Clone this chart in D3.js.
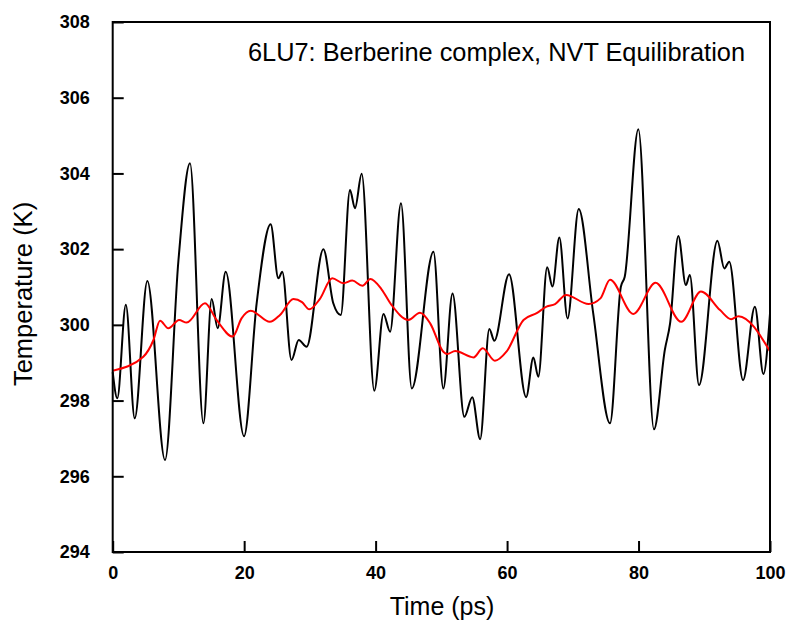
<!DOCTYPE html>
<html>
<head>
<meta charset="utf-8">
<script src="https://cdn.jsdelivr.net/npm/d3@7"></script>
<style>
  body { margin: 0; background: #fff; }
  text { font-family: "Liberation Sans", Arial, sans-serif; }
</style>
</head>
<body>
<svg id="chart" width="789" height="624"></svg>
<script>
// Raw temperature trace (ps, K)
const timeRaw = [0, 0.7, 2.0, 3.35, 5.27, 7.96, 10.0, 11.76, 13.8, 15.06, 15.97, 17.19, 19.98,
  21.9, 24.03, 25.2, 25.8, 27.2, 28.3, 29.5, 32.05, 33.56, 34.7, 36.1, 36.86, 37.88, 39.8,
  41.2, 42.2, 43.86, 45.5, 48.8, 50.3, 51.7, 53.5, 54.7, 55.9, 57.3, 58.06, 60.3, 62.9, 64.0,
  64.75, 66.1, 66.9, 67.95, 69.2, 70.9, 73.1, 75.66, 77.3, 77.9, 79.97, 82.35, 84.0, 84.8,
  86.05, 87.2, 87.8, 89.2, 92.0, 93.05, 93.8, 95.9, 97.7, 99.0, 100];
const tempRaw = [298.75, 298.06, 300.53, 297.53, 301.16, 296.43, 301.7, 304.27, 297.4, 300.68,
  299.91, 301.4, 297.06, 300.57, 302.66, 301.23, 301.4, 299.07, 299.6, 299.42, 302.0, 300.57,
  300.26, 303.56, 303.08, 303.99, 298.26, 300.29, 299.82, 303.21, 298.32, 301.93, 298.32,
  300.83, 297.57, 298.09, 296.98, 299.89, 299.58, 301.34, 298.09, 299.14, 298.63, 301.52,
  301.01, 302.31, 300.17, 303.06, 300.31, 297.4, 301.0, 301.27, 305.17, 297.24, 299.34,
  300.04, 302.35, 301.05, 301.32, 298.41, 302.22, 301.49, 301.67, 298.54, 300.48, 298.7, 300.3];

// Running average (red)
const timeAvg = [0, 4.66, 6.2, 7.2, 8.46, 10.1, 11.25, 14.04, 15.8, 18.26, 19.6, 21.0, 23.9,
  25.45, 27.5, 28.8, 29.9, 31.5, 33.4, 35.1, 36.45, 38.0, 39.2, 40.9, 42.4, 45.0, 46.75, 48.3,
  50.3, 50.9, 52.1, 54.9, 56.3, 58.15, 59.9, 62.5, 64.5, 66.0, 67.3, 68.97, 72.4, 74.2, 75.66,
  79.2, 82.6, 86.5, 89.5, 92.4, 94.1, 95.2, 100];
const tempAvg = [298.79, 299.16, 299.6, 300.11, 299.91, 300.13, 300.06, 300.57, 300.13, 299.69,
  300.17, 300.37, 300.08, 300.26, 300.68, 300.6, 300.41, 300.68, 301.23, 301.1, 301.17, 301.03,
  301.21, 300.94, 300.53, 300.13, 300.32, 300.04, 299.29, 299.23, 299.31, 299.14, 299.38,
  299.05, 299.29, 300.13, 300.31, 300.48, 300.55, 300.79, 300.55, 300.7, 301.19, 300.29,
  301.11, 300.08, 300.88, 300.39, 300.15, 300.23, 299.3];

const xTicks = [0, 20, 40, 60, 80, 100];
const yTicks = [294, 296, 298, 300, 302, 304, 306, 308];

const titleText = "6LU7: Berberine complex, NVT Equilibration";

const svg = d3.select("#chart");
const plotLeft = 112.7, plotRight = 770, plotTop = 22, plotBottom = 552;

const x = d3.scaleLinear().domain([0, 100]).range([plotLeft, plotRight]);
const y = d3.scaleLinear().domain([294, 308]).range([plotBottom, plotTop]);

// Curves
const line = d3.line()
  .x(d => x(d[0]))
  .y(d => y(d[1]))
  .curve(d3.curveMonotoneX);

svg.append("path")
  .datum(d3.zip(timeRaw, tempRaw))
  .attr("fill", "none")
  .attr("stroke", "#000")
  .attr("stroke-width", 2)
  .attr("d", line);

svg.append("path")
  .datum(d3.zip(timeAvg, tempAvg))
  .attr("fill", "none")
  .attr("stroke", "#ff0000")
  .attr("stroke-width", 2)
  .attr("d", line);

// Axes, ticks pointing inward
const xAxis = svg.append("g")
  .attr("transform", `translate(0,${plotBottom})`)
  .call(d3.axisBottom(x).tickValues(xTicks).tickSizeInner(-11).tickSizeOuter(0).tickPadding(14));

const yAxis = svg.append("g")
  .attr("transform", `translate(${plotLeft},0)`)
  .call(d3.axisLeft(y).tickValues(yTicks).tickSizeInner(-11).tickSizeOuter(0).tickPadding(23));

[xAxis, yAxis].forEach(a => {
  a.select(".domain").remove();
  a.selectAll("line").attr("stroke", "#000").attr("stroke-width", 2);
  a.selectAll("text")
    .style("font-family", "'Liberation Sans', Arial, sans-serif")
    .style("font-size", "18px")
    .style("font-weight", "bold")
    .attr("fill", "#000");
});

// Frame
svg.append("rect")
  .attr("x", plotLeft)
  .attr("y", plotTop)
  .attr("width", plotRight - plotLeft)
  .attr("height", plotBottom - plotTop)
  .attr("fill", "none")
  .attr("stroke", "#000")
  .attr("stroke-width", 2);

// Labels
svg.append("text")
  .attr("x", 745)
  .attr("y", 61)
  .attr("text-anchor", "end")
  .attr("textLength", 497)
  .attr("lengthAdjust", "spacingAndGlyphs")
  .style("font-size", "25px")
  .text(titleText);

svg.append("text")
  .attr("x", 442)
  .attr("y", 615)
  .attr("text-anchor", "middle")
  .style("font-size", "25px")
  .text("Time (ps)");

svg.append("text")
  .attr("transform", "translate(32,294) rotate(-90)")
  .attr("text-anchor", "middle")
  .style("font-size", "25.5px")
  .text("Temperature (K)");
</script>
</body>
</html>
